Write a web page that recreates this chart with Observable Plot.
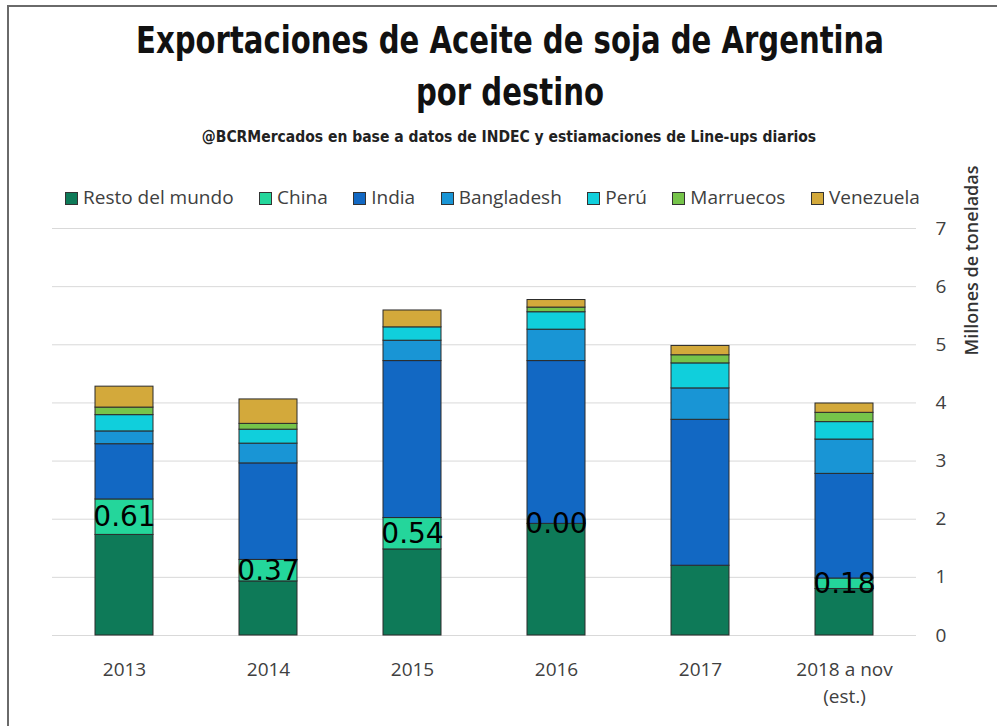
<!DOCTYPE html>
<html><head><meta charset="utf-8">
<script src="https://cdn.jsdelivr.net/npm/d3@7"></script>
<script src="https://cdn.jsdelivr.net/npm/@observablehq/plot@0.6"></script>
<style>
html,body{margin:0;padding:0;background:#fff}
body{width:997px;height:726px;overflow:hidden;position:relative;font-family:"Open Sans",sans-serif}
#frame{position:absolute;left:7px;top:5px;width:1000px;height:730px;border-left:2px solid #6a6a6a;border-top:2px solid #6a6a6a;pointer-events:none;z-index:5}
#header{position:relative;height:155px}
.t{position:absolute;left:0;width:1020px;text-align:center;font-family:"DejaVu Sans Condensed","DejaVu Sans",sans-serif;font-weight:bold;color:#111;transform-origin:510px 50%;white-space:nowrap}
#t1{top:19px;font-size:37px;line-height:44px;transform:scaleX(0.875)}
#t2{top:71px;font-size:37px;line-height:44px;transform:scaleX(0.875)}
#subtitle{top:128px;width:1018px;transform-origin:509px 50%;font-size:15.5px;line-height:18px;color:#222}
#chart{position:relative;height:571px}
#legend{position:absolute;left:65px;top:29px;display:flex;align-items:center;font-family:"Open Sans",sans-serif;font-size:19px;line-height:26px;color:#404040;white-space:nowrap}
#legend .item{display:flex;align-items:center;margin-right:25.5px}
#legend .sw{width:11px;height:11px;border:1px solid #333;margin-right:5px;margin-top:2px}
</style></head>
<body>
<div id="frame"></div>
<div id="header">
  <div class="t" id="t1">Exportaciones de Aceite de soja de Argentina</div>
  <div class="t" id="t2">por destino</div>
  <div class="t" id="subtitle">@BCRMercados en base a datos de INDEC y estiamaciones de Line-ups diarios</div>
</div>
<div id="chart"><div id="legend"></div></div>
<script>
const years = ["2013", "2014", "2015", "2016", "2017", "2018 a nov\n(est.)"];
const series = ["Resto del mundo", "China", "India", "Bangladesh", "Perú", "Marruecos", "Venezuela"];
const colors = ["#0e7a58", "#24d69b", "#1268c3", "#1995d5", "#10cfdc", "#76c44a", "#d3a93b"];
const resto      = [1.73, 0.93, 1.48, 1.92, 1.20, 0.80];
const china      = [0.61, 0.37, 0.54, 0.00, null, 0.18];
const india      = [0.95, 1.66, 2.70, 2.80, 2.51, 1.80];
const bangladesh = [0.22, 0.34, 0.35, 0.54, 0.54, 0.59];
const peru       = [0.28, 0.24, 0.23, 0.30, 0.43, 0.30];
const marruecos  = [0.13, 0.10, null, 0.08, 0.14, 0.16];
const venezuela  = [0.36, 0.42, 0.29, 0.13, 0.16, 0.16];
const yTicks = [0, 1, 2, 3, 4, 5, 6, 7];

const valuesBySeries = [resto, china, india, bangladesh, peru, marruecos, venezuela];
const data = [];
years.forEach((y, i) => series.forEach((s, j) => data.push({year: y, country: s, value: valuesBySeries[j][i]})));

const legend = document.getElementById("legend");
series.forEach((s, j) => {
  const it = document.createElement("div"); it.className = "item";
  const sw = document.createElement("div"); sw.className = "sw"; sw.style.background = colors[j];
  const tx = document.createElement("span"); tx.textContent = s;
  it.appendChild(sw); it.appendChild(tx); legend.appendChild(it);
});

const chart = Plot.plot({
  width: 997,
  height: 571,
  marginTop: 73,
  marginBottom: 91,
  marginLeft: 52,
  marginRight: 81,
  style: {background: "transparent", fontFamily: "'Open Sans', sans-serif", overflow: "visible"},
  x: {domain: years, paddingInner: 0.6, paddingOuter: 0.3, label: null},
  y: {domain: [0, 7], label: null},
  color: {domain: series, range: colors},
  marks: [
    Plot.gridY(yTicks, {stroke: "#d9d9d9", strokeOpacity: 1, strokeWidth: 1}),
    Plot.barY(data.filter(d => d.value != null), {
      x: "year", y: "value", fill: "country", z: "country", order: series,
      stroke: "#2b2b2b", strokeWidth: 1
    }),
    Plot.text(data, Plot.stackY({
      x: "year", y: "value", z: "country", order: series,
      text: d => (d.country === "China" && d.value != null) ? d.value.toFixed(2) : "",
      fontSize: 28, fontFamily: "'DejaVu Sans', sans-serif", fill: "#000"
    })),
    Plot.axisX({tickSize: 0, tickPadding: 22, fontSize: 19, lineHeight: 1.4, color: "#404040", label: null}),
    Plot.axisY(yTicks, {anchor: "right", tickSize: 0, tickPadding: 19, fontSize: 19, color: "#404040", tickFormat: "d", label: null}),
    Plot.text(["Millones de toneladas"], {
      frameAnchor: "top-right", rotate: -90, textAnchor: "end", dx: 49, dy: -63,
      fontSize: 18, fontWeight: 600, fill: "#333"
    })
  ]
});
document.getElementById("chart").prepend(chart);
</script>
</body></html>
